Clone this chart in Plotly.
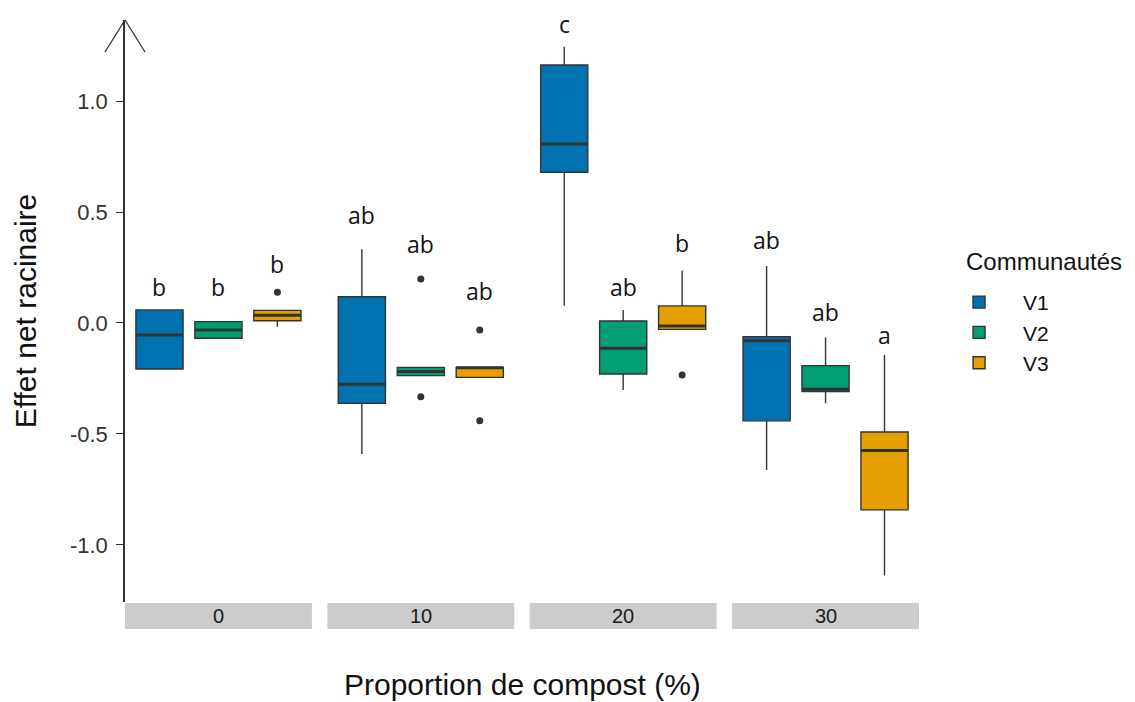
import plotly.graph_objects as go

# ---------------- data ----------------
panels = ["0", "10", "20", "30"]           # proportion de compost (%)
communities = ["V1", "V2", "V3"]
colors = {"V1": "#0072B2", "V2": "#009E73", "V3": "#E69F00"}

# box statistics per panel, order V1, V2, V3
q1 = {
    "0":  [-0.207, -0.069, 0.010],
    "10": [-0.362, -0.237, -0.245],
    "20": [0.679, -0.230, -0.029],
    "30": [-0.441, -0.309, -0.842],
}
median = {
    "0":  [-0.054, -0.032, 0.035],
    "10": [-0.276, -0.219, -0.202],
    "20": [0.806, -0.114, -0.014],
    "30": [-0.080, -0.299, -0.575],
}
q3 = {
    "0":  [0.059, 0.006, 0.057],
    "10": [0.118, -0.200, -0.200],
    "20": [1.162, 0.009, 0.077],
    "30": [-0.062, -0.192, -0.491],
}
lower = {
    "0":  [-0.207, -0.069, -0.017],
    "10": [-0.590, -0.237, -0.245],
    "20": [0.078, -0.302, -0.029],
    "30": [-0.662, -0.362, -1.138],
}
upper = {
    "0":  [0.059, 0.006, 0.057],
    "10": [0.332, -0.200, -0.200],
    "20": [1.245, 0.059, 0.236],
    "30": [0.257, -0.065, -0.144],
}
# outliers: (panel, community, value)
out_panel = ["0", "10", "10", "10", "10", "20"]
out_comm = ["V3", "V2", "V2", "V3", "V3", "V3"]
out_val = [0.138, 0.198, -0.332, -0.032, -0.441, -0.234]

# significance letters and their heights
letters = {
    "0":  ["b", "b", "b"],
    "10": ["ab", "ab", "ab"],
    "20": ["c", "ab", "b"],
    "30": ["ab", "ab", "a"],
}
letter_y = {
    "0":  [0.160, 0.160, 0.265],
    "10": [0.487, 0.358, 0.145],
    "20": [1.345, 0.162, 0.362],
    "30": [0.375, 0.048, -0.056],
}

y_range = [-1.257, 1.365]
y_ticks = [-1.0, -0.5, 0.0, 0.5, 1.0]


def to_paper(v):
    return (v - y_range[0]) / (y_range[1] - y_range[0])


# ---------------- figure ----------------
fig = go.Figure()
gap = 0.0195
pw = (1 - 3 * gap) / 4
axis_ids = ["", "2", "3", "4"]

for i, p in enumerate(panels):
    xa = "x" + axis_ids[i]
    for j, c in enumerate(communities):
        fig.add_trace(go.Box(
            x=[c], q1=[q1[p][j]], median=[median[p][j]], q3=[q3[p][j]],
            lowerfence=[lower[p][j]], upperfence=[upper[p][j]],
            name=c, legendgroup=c, showlegend=(i == 0),
            fillcolor=colors[c], line=dict(color="#333333", width=1.4),
            boxpoints=False, width=0.8, whiskerwidth=0,
            xaxis=xa, yaxis="y",
        ))
        # thicker median bar (ggplot style)
        m = median[p][j]
        fig.add_trace(go.Box(
            x=[c], q1=[m], median=[m], q3=[m], lowerfence=[m], upperfence=[m],
            name=c, showlegend=False, hoverinfo="skip",
            fillcolor="rgba(0,0,0,0)", line=dict(color="#333333", width=3),
            boxpoints=False, width=0.8, whiskerwidth=0,
            xaxis=xa, yaxis="y",
        ))
    ox = [c for pp, c in zip(out_panel, out_comm) if pp == p]
    oy = [v for pp, v in zip(out_panel, out_val) if pp == p]
    if ox:
        fig.add_trace(go.Scatter(
            x=ox, y=oy, mode="markers", showlegend=False,
            marker=dict(color="#333333", size=7), xaxis=xa, yaxis="y",
            hoverinfo="skip",
        ))
    for j, c in enumerate(communities):
        fig.add_annotation(
            x=c, y=to_paper(letter_y[p][j]), xref=xa, yref="paper",
            text=letters[p][j], showarrow=False, yanchor="middle",
            font=dict(family="Open Sans", size=23, color="#111111"),
        )
    # strip at bottom
    fig.add_shape(type="rect", xref=xa + " domain", yref="paper",
                  x0=0, x1=1, y0=-0.0017, y1=-0.0464,
                  fillcolor="#CCCCCC", line=dict(width=0), layer="below")
    fig.add_annotation(x=0.5, y=-0.024, xref=xa + " domain", yref="paper",
                       text=p, showarrow=False, yanchor="middle",
                       font=dict(family="Liberation Sans", size=20, color="#1A1A1A"))

    d0 = i * (pw + gap)
    key = "xaxis" + axis_ids[i]
    fig.layout[key] = dict(
        domain=[d0, d0 + pw], anchor="y", type="category",
        categoryorder="array", categoryarray=communities,
        range=[-0.585, 2.585], showticklabels=False, showline=False,
        showgrid=False, zeroline=False, ticks="",
    )

# arrow head on y axis
for dx in (-20, 20):
    fig.add_shape(type="line", xref="paper", yref="y",
                  xsizemode="pixel", ysizemode="pixel",
                  xanchor=0, yanchor=y_range[1],
                  x0=0, x1=dx, y0=0, y1=-32,
                  line=dict(color="#333333", width=1.3))

fig.add_annotation(x=0.5, y=-0.141, xref="paper", yref="paper",
                   text="Proportion de compost (%)", showarrow=False,
                   yanchor="middle",
                   font=dict(family="Liberation Sans", size=30, color="#111111"))

# legend title as text
fig.add_annotation(x=1.0565, y=0.5842, xref="paper", yref="paper",
                   text="Communautés", showarrow=False,
                   xanchor="left", yanchor="middle",
                   font=dict(family="Liberation Sans", size=24, color="#111111"))

# the page body has an 8px margin: size the figure to fill the window exactly
fig.update_layout(
    width=1127, height=694,
    margin=dict(l=117, r=216, t=12, b=100),
    paper_bgcolor="white", plot_bgcolor="white",
    boxmode="overlay",
    yaxis=dict(
        range=y_range, tickvals=y_ticks,
        ticktext=[f"{v:.1f}" for v in y_ticks],
        showline=True, linecolor="#333333", linewidth=1.5,
        ticks="outside", ticklen=7, tickcolor="#333333", tickwidth=1.3,
        ticklabelstandoff=4,
        showgrid=False, zeroline=False,
        tickfont=dict(family="Liberation Sans", size=22, color="#333333"),
        title=dict(text="Effet net racinaire", standoff=24,
                   font=dict(family="Liberation Sans", size=30, color="#111111")),
    ),
    legend=dict(
        x=1.0202, y=0.5499, xanchor="left", yanchor="top",
        font=dict(family="Liberation Sans", size=21, color="#111111"),
        tracegroupgap=0, itemwidth=78,
    ),
    showlegend=True,
)

fig.write_html("out.html")
